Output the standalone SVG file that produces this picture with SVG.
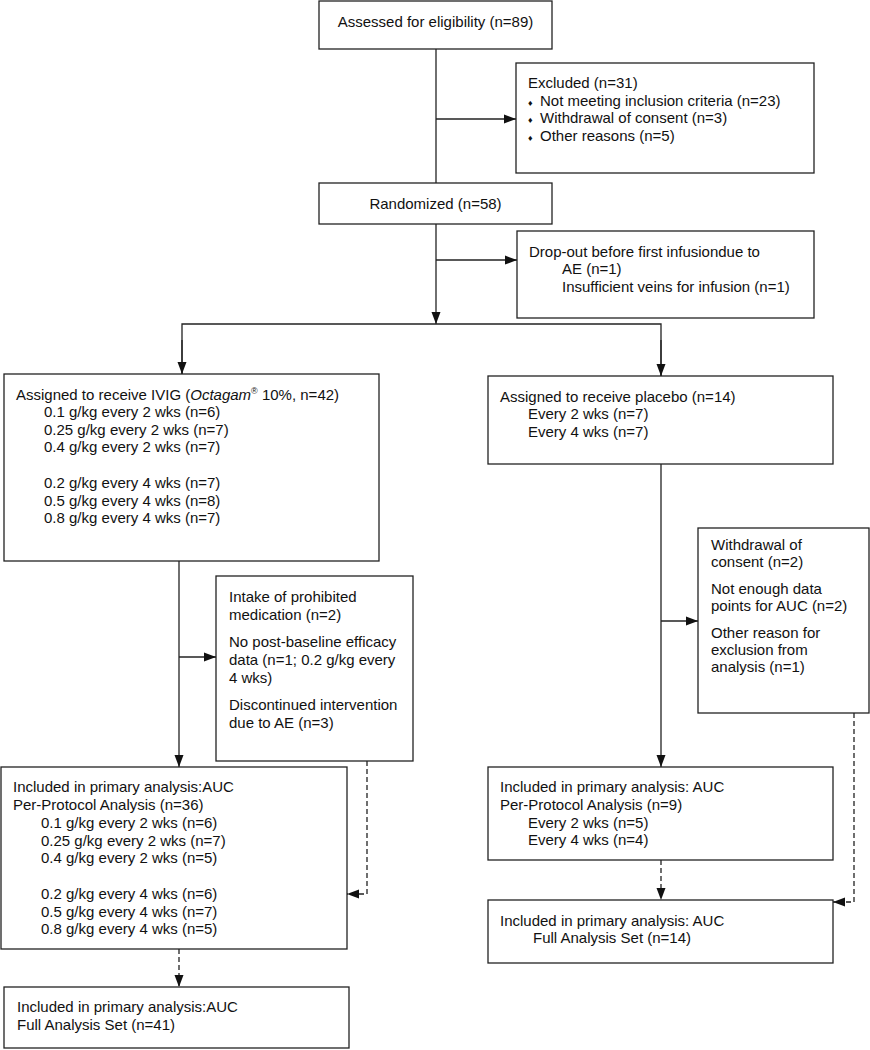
<svg xmlns="http://www.w3.org/2000/svg" width="870" height="1050" viewBox="0 0 870 1050">
<style>
.box{fill:#fff;stroke:#222;stroke-width:1.3}
.ln{fill:none;stroke:#222;stroke-width:1.3}
.dash{fill:none;stroke:#222;stroke-width:1.3;stroke-dasharray:5 3}
text{font-family:"Liberation Sans",Arial,sans-serif;font-size:15px;fill:#111}
.c{text-anchor:middle}
.b{font-size:9px}
</style>
<defs>
<marker id="ah" markerUnits="userSpaceOnUse" markerWidth="12" markerHeight="10" refX="12" refY="5" orient="auto">
<path d="M0,0.5 L12,5 L0,9.5 z" fill="#111"/>
</marker>
</defs>
<rect width="870" height="1050" fill="#fff"/>
<g id="connectors">
<line class="ln" x1="436" y1="49" x2="436" y2="183"/>
<line class="ln" x1="436" y1="119" x2="516" y2="119" marker-end="url(#ah)"/>
<line class="ln" x1="436" y1="224" x2="436" y2="324" marker-end="url(#ah)"/>
<line class="ln" x1="436" y1="260" x2="517" y2="260" marker-end="url(#ah)"/>
<polyline class="ln" points="182,374 182,324 661,324 661,376"/>
<line class="ln" x1="182" y1="340" x2="182" y2="374" marker-end="url(#ah)"/>
<line class="ln" x1="661" y1="340" x2="661" y2="376" marker-end="url(#ah)"/>
<line class="ln" x1="179" y1="561" x2="179" y2="767" marker-end="url(#ah)"/>
<line class="ln" x1="179" y1="657" x2="216" y2="657" marker-end="url(#ah)"/>
<line class="ln" x1="661" y1="464" x2="661" y2="767" marker-end="url(#ah)"/>
<line class="ln" x1="661" y1="621" x2="698" y2="621" marker-end="url(#ah)"/>
<polyline class="dash" points="367,761 367,894 347,894" marker-end="url(#ah)"/>
<polyline class="dash" points="854,713 854,902 833,902" marker-end="url(#ah)"/>
<line class="dash" x1="179" y1="949" x2="179" y2="987" marker-end="url(#ah)"/>
<line class="dash" x1="661" y1="860" x2="661" y2="900" marker-end="url(#ah)"/>
</g>
<g id="assessed">
<rect class="box" x="319" y="1" width="233" height="48"/>
<text class="c" x="435.5" y="27">Assessed for eligibility (n=89)</text>
</g>
<g id="excluded">
<rect class="box" x="516" y="63" width="298" height="110"/>
<text x="528" y="88">Excluded (n=31)</text>
<text x="528" y="106"><tspan class="b">♦</tspan><tspan x="540">Not meeting inclusion criteria (n=23)</tspan></text>
<text x="528" y="123"><tspan class="b">♦</tspan><tspan x="540">Withdrawal of consent (n=3)</tspan></text>
<text x="528" y="141"><tspan class="b">♦</tspan><tspan x="540">Other reasons (n=5)</tspan></text>
</g>
<g id="randomized">
<rect class="box" x="319" y="183" width="233" height="41"/>
<text class="c" x="435.5" y="209">Randomized (n=58)</text>
</g>
<g id="dropout">
<rect class="box" x="517" y="231" width="297" height="87"/>
<text x="529" y="257">Drop-out before first infusiondue to</text>
<text x="562" y="274">AE (n=1)</text>
<text x="562" y="292">Insufficient veins for infusion (n=1)</text>
</g>
<g id="ivig">
<rect class="box" x="4" y="374" width="375" height="187"/>
<text x="16" y="400">Assigned to receive IVIG (<tspan font-style="italic">Octagam</tspan><tspan font-size="9" dy="-6">®</tspan><tspan dy="6"> 10%, n=42)</tspan></text>
<text x="44" y="417">0.1 g/kg every 2 wks (n=6)</text>
<text x="44" y="435">0.25 g/kg every 2 wks (n=7)</text>
<text x="44" y="452">0.4 g/kg every 2 wks (n=7)</text>
<text x="44" y="488">0.2 g/kg every 4 wks (n=7)</text>
<text x="44" y="506">0.5 g/kg every 4 wks (n=8)</text>
<text x="44" y="523">0.8 g/kg every 4 wks (n=7)</text>
</g>
<g id="placebo">
<rect class="box" x="488" y="376" width="345" height="88"/>
<text x="500" y="402">Assigned to receive placebo (n=14)</text>
<text x="528" y="419">Every 2 wks (n=7)</text>
<text x="528" y="437">Every 4 wks (n=7)</text>
</g>
<g id="intake">
<rect class="box" x="216" y="576" width="197" height="185"/>
<text x="229" y="602">Intake of prohibited</text>
<text x="229" y="620">medication (n=2)</text>
<text x="229" y="647">No post-baseline efficacy</text>
<text x="229" y="665">data (n=1; 0.2 g/kg every</text>
<text x="229" y="683">4 wks)</text>
<text x="229" y="710">Discontinued intervention</text>
<text x="229" y="728">due to AE (n=3)</text>
</g>
<g id="withdrawal">
<rect class="box" x="698" y="528" width="171" height="185"/>
<text x="711" y="550">Withdrawal of</text>
<text x="711" y="567">consent (n=2)</text>
<text x="711" y="594">Not enough data</text>
<text x="711" y="611">points for AUC (n=2)</text>
<text x="711" y="638">Other reason for</text>
<text x="711" y="655">exclusion from</text>
<text x="711" y="672">analysis (n=1)</text>
</g>
<g id="ivig-pp">
<rect class="box" x="1" y="767" width="346" height="182"/>
<text x="13" y="792">Included in primary analysis:AUC</text>
<text x="13" y="810">Per-Protocol Analysis (n=36)</text>
<text x="41" y="828">0.1 g/kg every 2 wks (n=6)</text>
<text x="41" y="846">0.25 g/kg every 2 wks (n=7)</text>
<text x="41" y="863">0.4 g/kg every 2 wks (n=5)</text>
<text x="41" y="899">0.2 g/kg every 4 wks (n=6)</text>
<text x="41" y="917">0.5 g/kg every 4 wks (n=7)</text>
<text x="41" y="934">0.8 g/kg every 4 wks (n=5)</text>
</g>
<g id="placebo-pp">
<rect class="box" x="488" y="767" width="345" height="93"/>
<text x="500" y="792">Included in primary analysis: AUC</text>
<text x="500" y="810">Per-Protocol Analysis (n=9)</text>
<text x="528" y="828">Every 2 wks (n=5)</text>
<text x="528" y="845">Every 4 wks (n=4)</text>
</g>
<g id="ivig-fas">
<rect class="box" x="4" y="987" width="345" height="61"/>
<text x="17" y="1012">Included in primary analysis:AUC</text>
<text x="17" y="1030">Full Analysis Set (n=41)</text>
</g>
<g id="placebo-fas">
<rect class="box" x="488" y="900" width="345" height="63"/>
<text x="500" y="926">Included in primary analysis: AUC</text>
<text x="533" y="943">Full Analysis Set (n=14)</text>
</g>
</svg>
